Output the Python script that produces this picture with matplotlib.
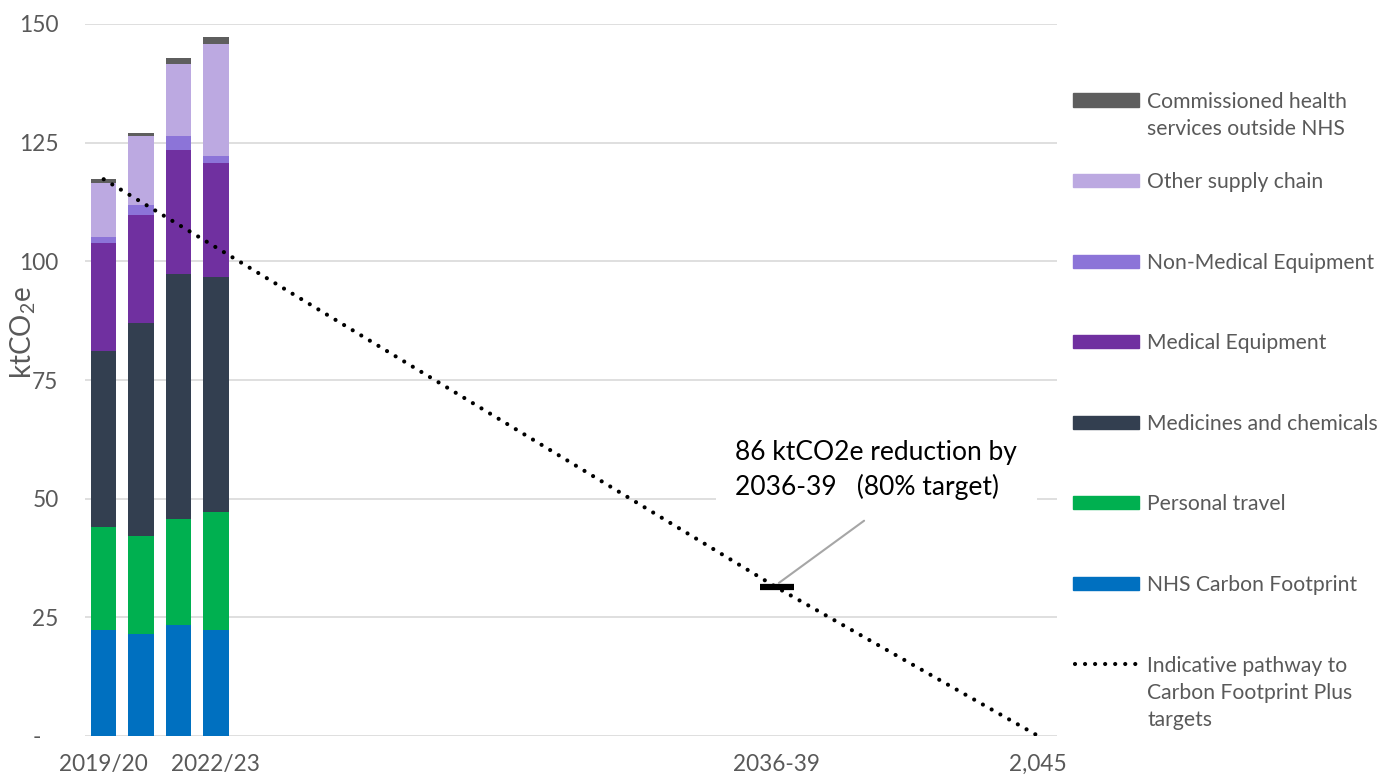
import matplotlib
matplotlib.use("Agg")
from matplotlib import pyplot as plt
from matplotlib.patches import Rectangle
from matplotlib.lines import Line2D

# stacked bar data, ktCO2e, bottom segment first
years = ["2019/20", "2020/21", "2021/22", "2022/23"]
nhs_footprint = [22.3, 21.5, 23.3, 22.3]
personal_travel = [21.7, 20.6, 22.5, 24.8]
medicines = [37.1, 45.0, 51.5, 49.7]
medical_equipment = [22.7, 22.7, 26.2, 24.0]
non_medical_equipment = [1.3, 2.1, 2.8, 1.4]
other_supply_chain = [11.3, 14.4, 15.3, 23.5]
commissioned = [0.9, 0.7, 1.2, 1.6]

# indicative pathway (category index, value)
pathway_x = [0, 18, 25]
pathway_y = [117.3, 31.3, 0.0]
target_x = 18
target_y = 31.3

n_slots = 26
tick_pos = [0, 3, 18, 25]
tick_labels = ["2019/20", "2022/23", "2036-39", "2,045"]
y_ticks = [0, 25, 50, 75, 100, 125, 150]
y_tick_labels = ["-   ", "25", "50", "75", "100", "125", "150"]

series = [
    ("NHS Carbon Footprint", nhs_footprint, "#0070C0"),
    ("Personal travel", personal_travel, "#00B050"),
    ("Medicines and chemicals", medicines, "#333F50"),
    ("Medical Equipment", medical_equipment, "#7030A0"),
    ("Non-Medical Equipment", non_medical_equipment, "#8C74D8"),
    ("Other supply chain", other_supply_chain, "#BCA9E1"),
    ("Commissioned health\nservices outside NHS", commissioned, "#5E5E5E"),
]
pathway_label = "Indicative pathway to\nCarbon Footprint Plus\ntargets"

plt.rcParams["font.family"] = ["Lato", "DejaVu Sans"]
plt.rcParams["mathtext.default"] = "regular"

W, H = 1392, 781
TEXT_GREY = "#595959"


def fx(px):
    return px / W


def fy(py):
    return 1 - py / H


fig = plt.figure(figsize=(W / 100, H / 100), dpi=100)
ax = fig.add_axes([fx(85), fy(736), (1057 - 85) / W, (736 - 24) / H])

bottom = [0.0] * len(years)
xs = list(range(len(years)))
for name, vals, color in series:
    ax.bar(xs, vals, width=0.68, bottom=bottom, color=color, zorder=2)
    bottom = [b + v for b, v in zip(bottom, vals)]

dots = dict(color="black", lw=3, linestyle=(0, (0.01, 2.4)), dash_capstyle="round")
ax.plot(pathway_x, pathway_y, zorder=3, **dots)

# 80% target marker and callout
ax.plot([target_x], [target_y], marker="_", ms=25, mew=4.5, color="black", zorder=4)
ax.annotate("", xy=(target_x, target_y + 0.6), xytext=(20.4, 45.7),
            arrowprops=dict(arrowstyle="-", color="#A6A6A6", lw=1.5), zorder=4)
ax.text(16.9, 62.3, "86 ktCO2e reduction by\n2036-39   (80% target)", fontsize=19,
        color="black", va="top", ha="left", linespacing=1.4, zorder=5,
        bbox=dict(facecolor="white", edgecolor="none", pad=14))

ax.set_xlim(-0.5, n_slots - 0.5)
ax.set_ylim(0, 150)
ax.set_yticks(y_ticks)
ax.set_yticklabels(y_tick_labels)
ax.set_xticks(tick_pos)
ax.set_xticklabels(tick_labels)
ax.tick_params(axis="y", length=0, pad=19, labelsize=16.3, labelcolor=TEXT_GREY)
ax.tick_params(axis="x", length=0, pad=13, labelsize=16.3, labelcolor=TEXT_GREY)
ax.grid(axis="y", color="#D9D9D9", lw=1.2, zorder=0)
ax.set_axisbelow(True)
for s in ax.spines.values():
    s.set_visible(False)

ax.set_ylabel("ktCO$_2$e", fontsize=20, color=TEXT_GREY)
ax.yaxis.set_label_coords(-0.0485, 0.567)

# legend drawn by hand so the key sits on the first text line
entries = [(name, color) for name, _, color in series[::-1]]
entries.append((pathway_label, None))
for i, (name, color) in enumerate(entries):
    yc = 100 + i * 80.6
    if color is not None:
        fig.add_artist(Rectangle((fx(1073), fy(yc + 6.5)), (1139 - 1073) / W, 13 / H,
                                 transform=fig.transFigure, color=color))
    else:
        fig.add_artist(Line2D([fx(1075), fx(1137)], [fy(yc), fy(yc)],
                              transform=fig.transFigure, **dots))
    for j, line in enumerate(name.split("\n")):
        fig.text(fx(1147), fy(yc + 7.5 + j * 27.3), line, va="baseline", ha="left",
                 fontsize=15.2, color=TEXT_GREY)

fig.savefig("out.png", dpi=100)
